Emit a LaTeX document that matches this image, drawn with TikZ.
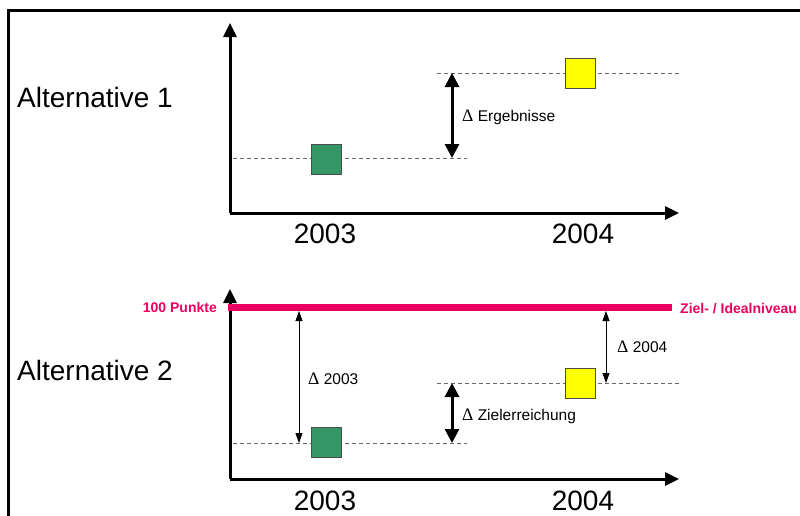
\documentclass[tikz,border=0pt]{standalone}
\usepackage{fontspec}
\setmainfont{Liberation Sans}
\newfontfamily\deltafont{Liberation Serif}
\newcommand{\dlt}{{\deltafont\fontsize{17.5}{18}\selectfont Δ}}
\usetikzlibrary{arrows.meta}
\definecolor{zielred}{RGB}{235,0,95}
\definecolor{sqgreen}{RGB}{51,150,100}
\definecolor{sqyellow}{RGB}{255,255,0}
\begin{document}
\begin{tikzpicture}[x=1pt,y=-1pt,
  axis/.style={line width=3pt,-{Triangle[length=14pt,width=13pt]}},
  guide/.style={draw=black!60,line width=1pt,dash pattern=on 4pt off 3pt},
  bigdelta/.style={line width=3pt,{Triangle[length=14pt,width=14pt]}-{Triangle[length=14pt,width=14pt]}},
  smalldelta/.style={line width=0.8pt,{Triangle[length=10pt,width=7pt]}-{Triangle[length=10pt,width=7pt]}},
  sq/.style={draw=black!70,line width=1pt,minimum size=30pt,inner sep=0pt},
  alt/.style={font=\fontsize{28}{30}\selectfont,anchor=west,inner sep=0pt},
  year/.style={font=\fontsize{28}{30}\selectfont,inner sep=0pt},
  lbl/.style={font=\fontsize{15.5}{17}\selectfont,anchor=base west,inner sep=0pt},
  redlbl/.style={font=\bfseries\fontsize{14}{16}\selectfont,text=zielred,inner sep=0pt}
]
\useasboundingbox (0,0) rectangle (800,515);
\fill[white] (0,0) rectangle (800,515);
% frame
\draw[line width=3pt] (8,516) -- (8,10) -- (801,10);

% ---------- Alternative 1 ----------
\node[alt] (alt1) at (17,97) {Alternative 1};
\coordinate (o1) at (230,213);
\coordinate (yt1) at (230,23);
\coordinate (xt1) at (679,213);
\draw[axis] (o1) -- (yt1);
\draw[axis] (o1) -- (xt1);
\node[year] (y03a) at (325,234) {2003};
\node[year] (y04a) at (583,234) {2004};

\coordinate (g1l) at (233,158);
\coordinate (g1r) at (467,158);
\coordinate (y1l) at (437,73);
\coordinate (y1r) at (679,73);
\draw[guide] (g1l) -- (g1r);
\draw[guide] (y1l) -- (y1r);
\node[sq,fill=sqgreen] (g1) at (326,159) {};
\node[sq,fill=sqyellow] (ye1) at (580,73) {};
\coordinate (d1t) at (452,73);
\coordinate (d1b) at (452,158);
\draw[bigdelta] (d1t) -- (d1b);
\node[lbl] (lerg) at (462,121.5) {\dlt\ Ergebnisse};

% ---------- Alternative 2 ----------
\node[alt] (alt2) at (17,370) {Alternative 2};
\coordinate (o2) at (230,479);
\coordinate (yt2) at (230,289);
\coordinate (xt2) at (679,479);
\draw[axis] (o2) -- (yt2);
\draw[axis] (o2) -- (xt2);
\node[year] (y03b) at (325,501) {2003};
\node[year] (y04b) at (583,501) {2004};

\coordinate (rl) at (228,307);
\coordinate (rr) at (672,307);
\draw[zielred,line width=7pt] (rl) -- (rr);
\node[redlbl,anchor=base east] (punkte) at (217,312) {100 Punkte};
\node[redlbl,anchor=base west] (ziel) at (680,313) {Ziel- / Idealniveau};

\coordinate (g2l) at (233,443);
\coordinate (g2r) at (467,443);
\coordinate (y2l) at (437,383);
\coordinate (y2r) at (679,383);
\draw[guide] (g2l) -- (g2r);
\draw[guide] (y2l) -- (y2r);
\node[sq,fill=sqgreen] (g2) at (326,442) {};
\node[sq,fill=sqyellow] (ye2) at (580,383) {};

\coordinate (d03t) at (299,311);
\coordinate (d03b) at (299,443);
\draw[smalldelta] (d03t) -- (d03b);
\node[lbl] (l03) at (308,384.5) {\dlt\ 2003};

\coordinate (d04t) at (606,311);
\coordinate (d04b) at (606,383);
\draw[smalldelta] (d04t) -- (d04b);
\node[lbl] (l04) at (617,352.5) {\dlt\ 2004};

\coordinate (dzt) at (452,383);
\coordinate (dzb) at (452,443);
\draw[bigdelta] (dzt) -- (dzb);
\node[lbl] (lz) at (462,420) {\dlt\ Zielerreichung};
\end{tikzpicture}
\end{document}
